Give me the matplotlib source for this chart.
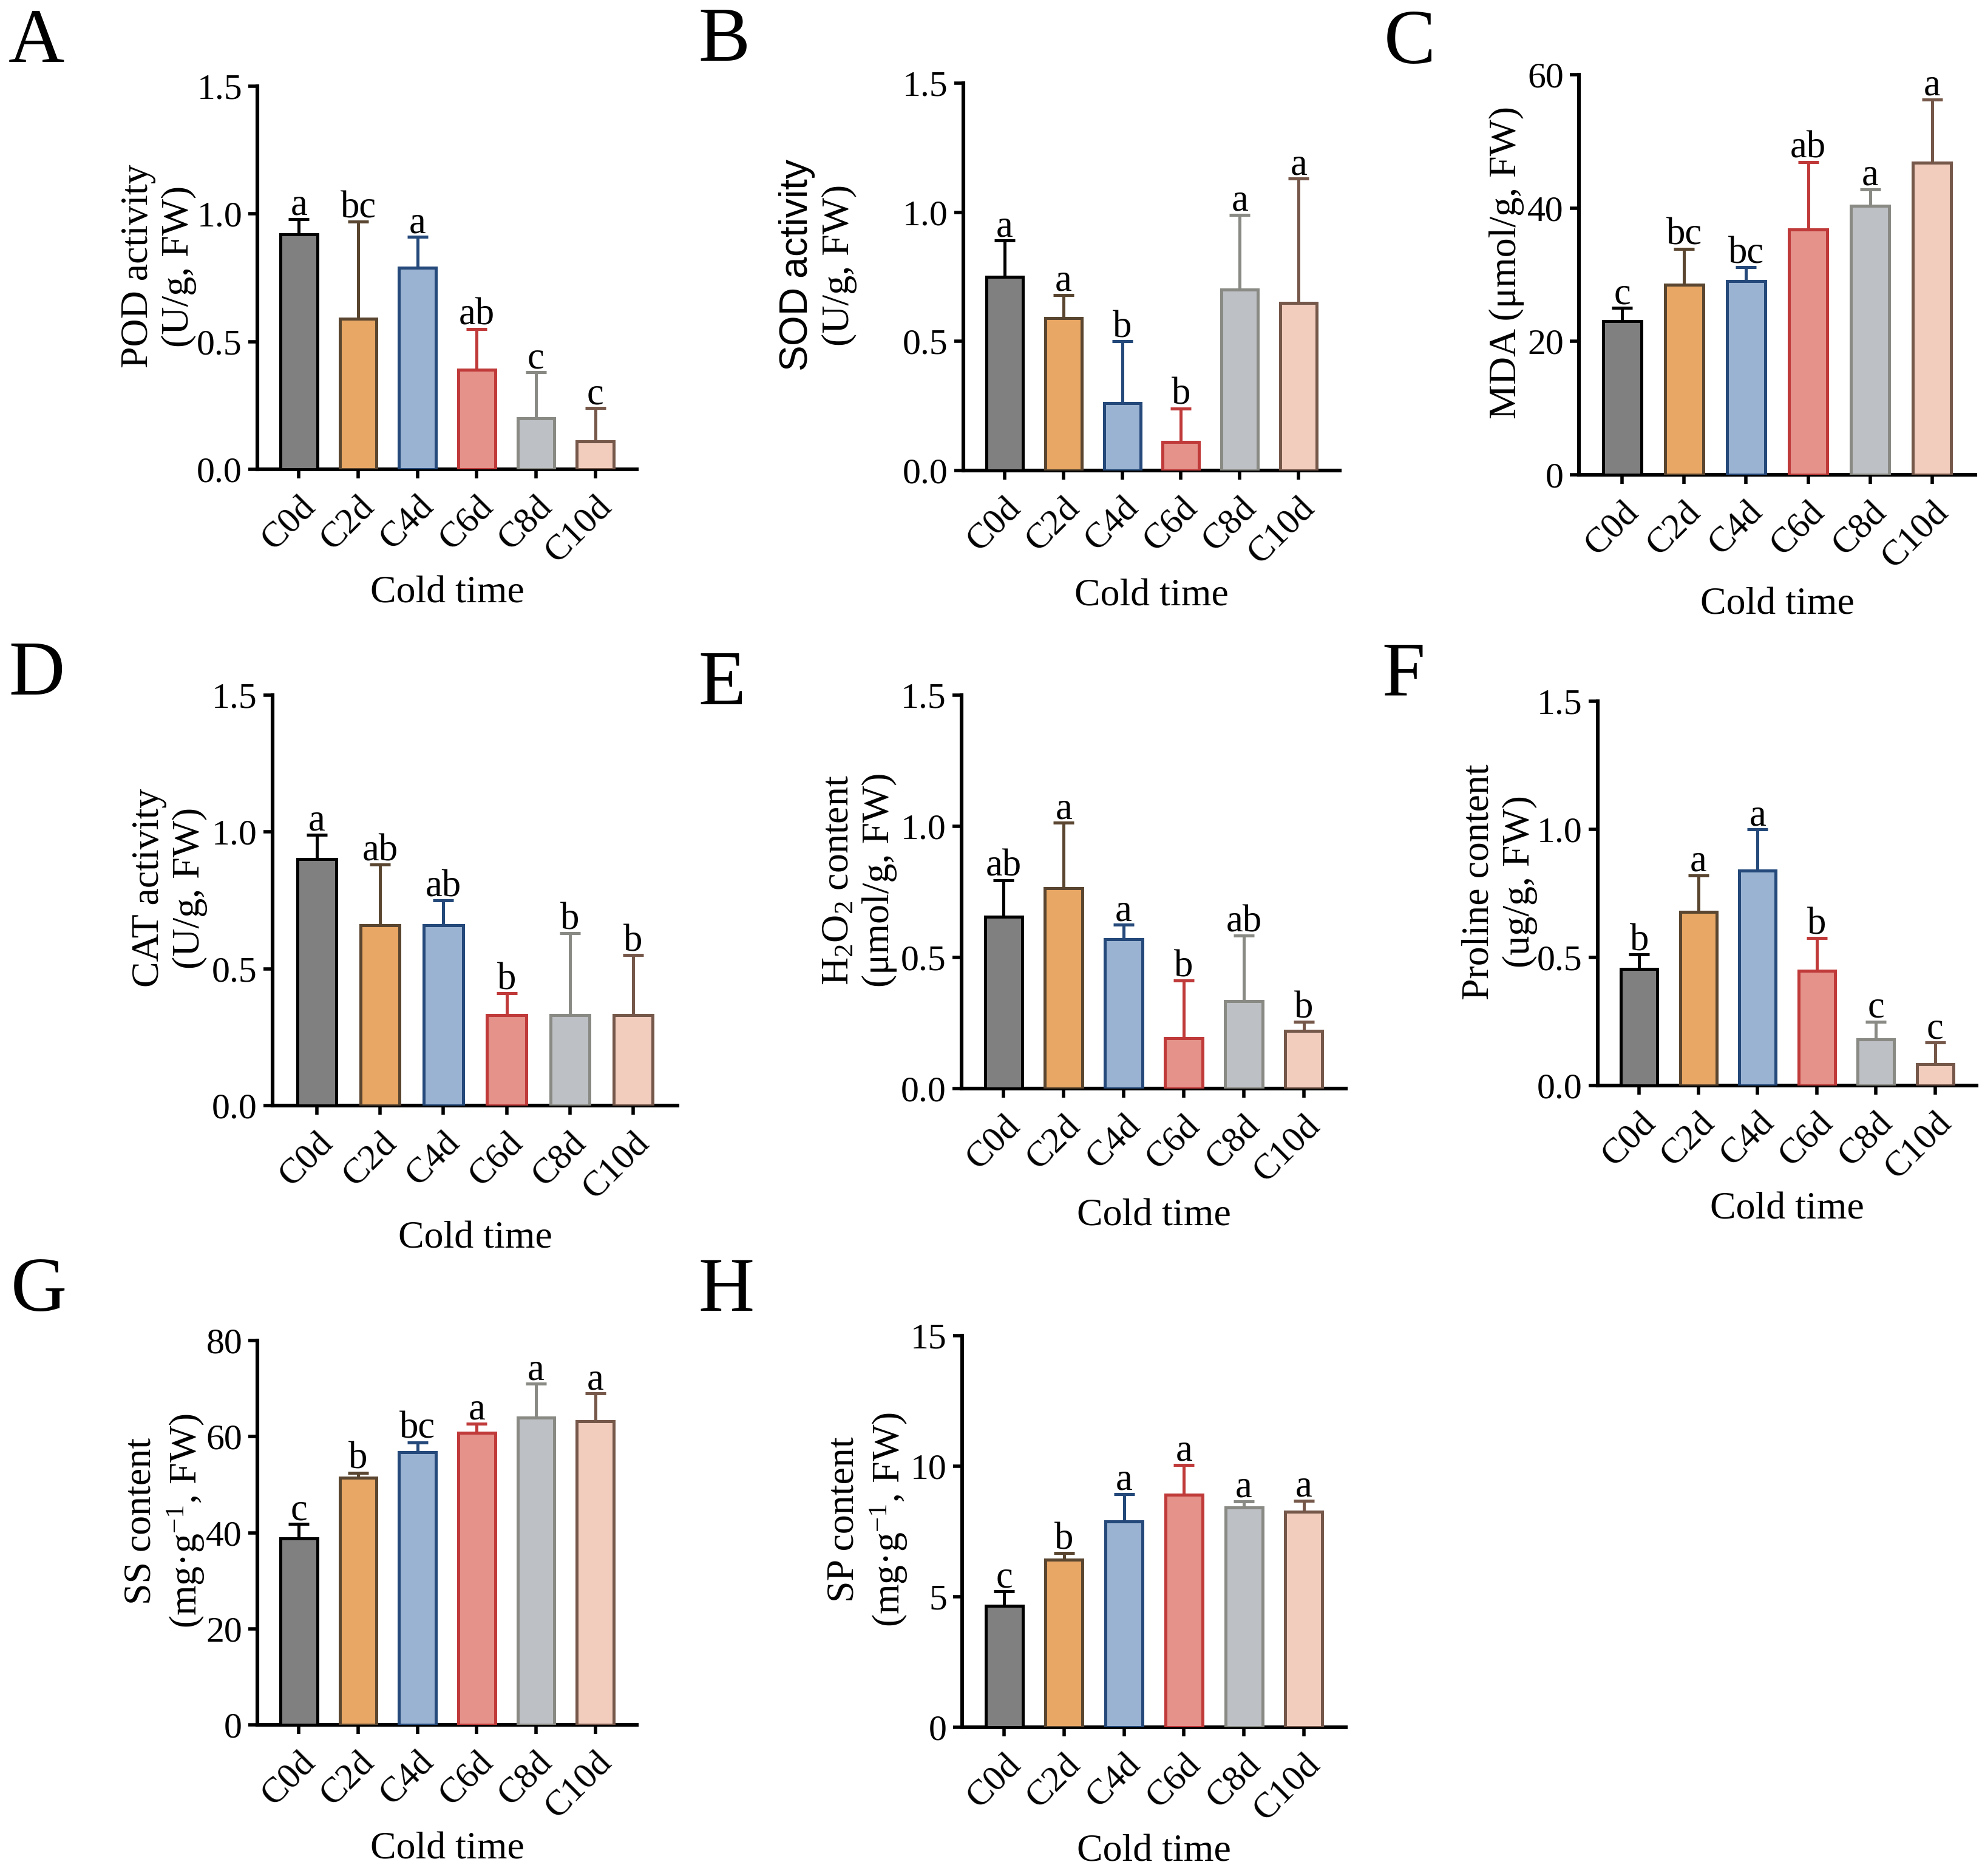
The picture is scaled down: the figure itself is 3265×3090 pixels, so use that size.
import numpy as np
import matplotlib
matplotlib.use("Agg")
import matplotlib.pyplot as plt

# fonts: Times-like serif everywhere, sans only for the SOD label
plt.rcParams["font.family"] = ["Liberation Serif", "DejaVu Serif"]
plt.rcParams["mathtext.fontset"] = "custom"
plt.rcParams["mathtext.rm"] = "Liberation Serif"
plt.rcParams["mathtext.it"] = "Liberation Serif:italic"
plt.rcParams["mathtext.sf"] = "Liberation Sans"

# categories and colours
groups = ["C0d", "C2d", "C4d", "C6d", "C8d", "C10d"]
fills = ["#808080", "#E8A764", "#9BB3D2", "#E4928A", "#BDC0C4", "#F2CDBE"]
edges = ["#000000", "#5A4630", "#24497A", "#C03A3A", "#8A8A85", "#76584A"]

# A: POD activity
pod_mean = [0.92, 0.59, 0.79, 0.39, 0.20, 0.11]
pod_sd = [0.06, 0.38, 0.12, 0.16, 0.18, 0.13]
pod_sig = ["a", "bc", "a", "ab", "c", "c"]
# B: SOD activity
sod_mean = [0.75, 0.59, 0.26, 0.11, 0.70, 0.65]
sod_sd = [0.14, 0.09, 0.24, 0.13, 0.29, 0.48]
sod_sig = ["a", "a", "b", "b", "a", "a"]
# C: MDA
mda_mean = [23.0, 28.5, 29.0, 36.8, 40.3, 46.8]
mda_sd = [2.0, 5.4, 2.1, 10.1, 2.5, 9.5]
mda_sig = ["c", "bc", "bc", "ab", "a", "a"]
# D: CAT activity
cat_mean = [0.90, 0.66, 0.66, 0.33, 0.33, 0.33]
cat_sd = [0.09, 0.22, 0.09, 0.08, 0.30, 0.22]
cat_sig = ["a", "ab", "ab", "b", "b", "b"]
# E: H2O2 content
h2o2_mean = [0.655, 0.764, 0.569, 0.192, 0.333, 0.220]
h2o2_sd = [0.14, 0.25, 0.056, 0.22, 0.25, 0.034]
h2o2_sig = ["ab", "a", "a", "b", "ab", "b"]
# F: proline content
pro_mean = [0.454, 0.678, 0.840, 0.448, 0.181, 0.084]
pro_sd = [0.057, 0.143, 0.16, 0.127, 0.068, 0.084]
pro_sig = ["b", "a", "a", "b", "c", "c"]
# G: soluble sugar
ss_mean = [38.8, 51.4, 56.7, 60.8, 63.9, 63.2]
ss_sd = [3.0, 1.1, 2.1, 1.9, 7.1, 5.8]
ss_sig = ["c", "b", "bc", "a", "a", "a"]
# H: soluble protein
sp_mean = [4.64, 6.41, 7.89, 8.91, 8.43, 8.25]
sp_sd = [0.56, 0.26, 1.05, 1.14, 0.23, 0.43]
sp_sig = ["c", "b", "a", "a", "a", "a"]

W, H = 3266, 3090
fig = plt.figure(figsize=(W / 200, H / 200), dpi=200)

# panel: letter, data, y label, y max, y step, tick format,
# axes box in pixels (left, right, top, bottom), letter pos, ylabel right edge, xlabel baseline
panels = [
    ("A", pod_mean, pod_sd, pod_sig, "POD activity\n(U/g, FW)", 1.5, 0.5, "%.1f",
     (424, 1049, 142, 773), (14, 102), 324, 992),
    ("B", sod_mean, sod_sd, sod_sig, "$\\mathsf{SOD\\ activity}$\n(U/g, FW)", 1.5, 0.5, "%.1f",
     (1587, 2207, 137, 775), (1150, 100), 1412, 998),
    ("C", mda_mean, mda_sd, mda_sig, "MDA (\u03bcmol/g, FW)", 60, 20, "%d",
     (2601, 3254, 123, 782), (2280, 104), 2511, 1011),
    ("D", cat_mean, cat_sd, cat_sig, "CAT activity\n(U/g, FW)", 1.5, 0.5, "%.1f",
     (449, 1116, 1145, 1821), (14, 1144), 342, 2055),
    ("E", h2o2_mean, h2o2_sd, h2o2_sig, "H$_2$O$_2$ content\n(\u03bcmol/g, FW)", 1.5, 0.5, "%.1f",
     (1584, 2217, 1145, 1793), (1150, 1160), 1478, 2018),
    ("F", pro_mean, pro_sd, pro_sig, "Proline content\n(ug/g, FW)", 1.5, 0.5, "%.1f",
     (2632, 3256, 1155, 1788), (2276, 1144), 2533, 2008),
    ("G", ss_mean, ss_sd, ss_sig, "SS content\n(mg\u00b7g$^{-1}$, FW)", 80, 20, "%d",
     (424, 1049, 2208, 2841), (18, 2159), 340, 3061),
    ("H", sp_mean, sp_sd, sp_sig, "SP content\n(mg\u00b7g$^{-1}$, FW)", 15, 5, "%d",
     (1585, 2217, 2200, 2845), (1150, 2159), 1498, 3065),
]

x = np.arange(len(groups))
for (letter, mean, sd, sig, ylab, ymax, ystep, fmt,
     box, lpos, ylab_right, xlab_base) in panels:
    l, r, t, b = box
    ax = fig.add_axes([l / W, 1 - b / H, (r - l) / W, (b - t) / H])

    ax.bar(x, mean, width=0.62, color=fills, edgecolor=edges, linewidth=1.8, zorder=3)
    for i in range(len(groups)):
        ax.errorbar(x[i], mean[i], yerr=[[0], [sd[i]]], fmt="none", ecolor=edges[i],
                    elinewidth=1.8, capsize=6, capthick=1.8, zorder=2)
        # significance letter sits just above the cap
        ax.annotate(sig[i], (x[i], mean[i] + sd[i]), xytext=(0, 2.5),
                    textcoords="offset points", ha="center", va="baseline",
                    fontsize=22.5, zorder=4)

    ax.set_xlim(-0.7, 5.7)
    ax.set_ylim(0, ymax)
    ax.set_yticks(np.arange(0, ymax + ystep / 2, ystep))
    ax.yaxis.set_major_formatter(matplotlib.ticker.FormatStrFormatter(fmt))
    ax.set_xticks(x)
    ax.set_xticklabels(groups, rotation=45, ha="right", va="top", rotation_mode="anchor")
    ax.tick_params(axis="both", labelsize=21.5, width=2.0, length=5.5, direction="out")
    ax.tick_params(axis="x", pad=7)
    for s in ["top", "right"]:
        ax.spines[s].set_visible(False)
    for s in ["left", "bottom"]:
        ax.spines[s].set_linewidth(2.2)

    ax.set_ylabel(ylab, fontsize=23)
    ax.yaxis.set_label_coords((ylab_right - l) / (r - l), 0.53)
    ax.set_xlabel("Cold time", fontsize=23, va="baseline")
    ax.xaxis.set_label_coords(0.5, (b - xlab_base) / (b - t))

    fig.text(lpos[0] / W, 1 - lpos[1] / H, letter, fontsize=46, ha="left", va="baseline")

fig.savefig("out.png", dpi=200, facecolor="white")
